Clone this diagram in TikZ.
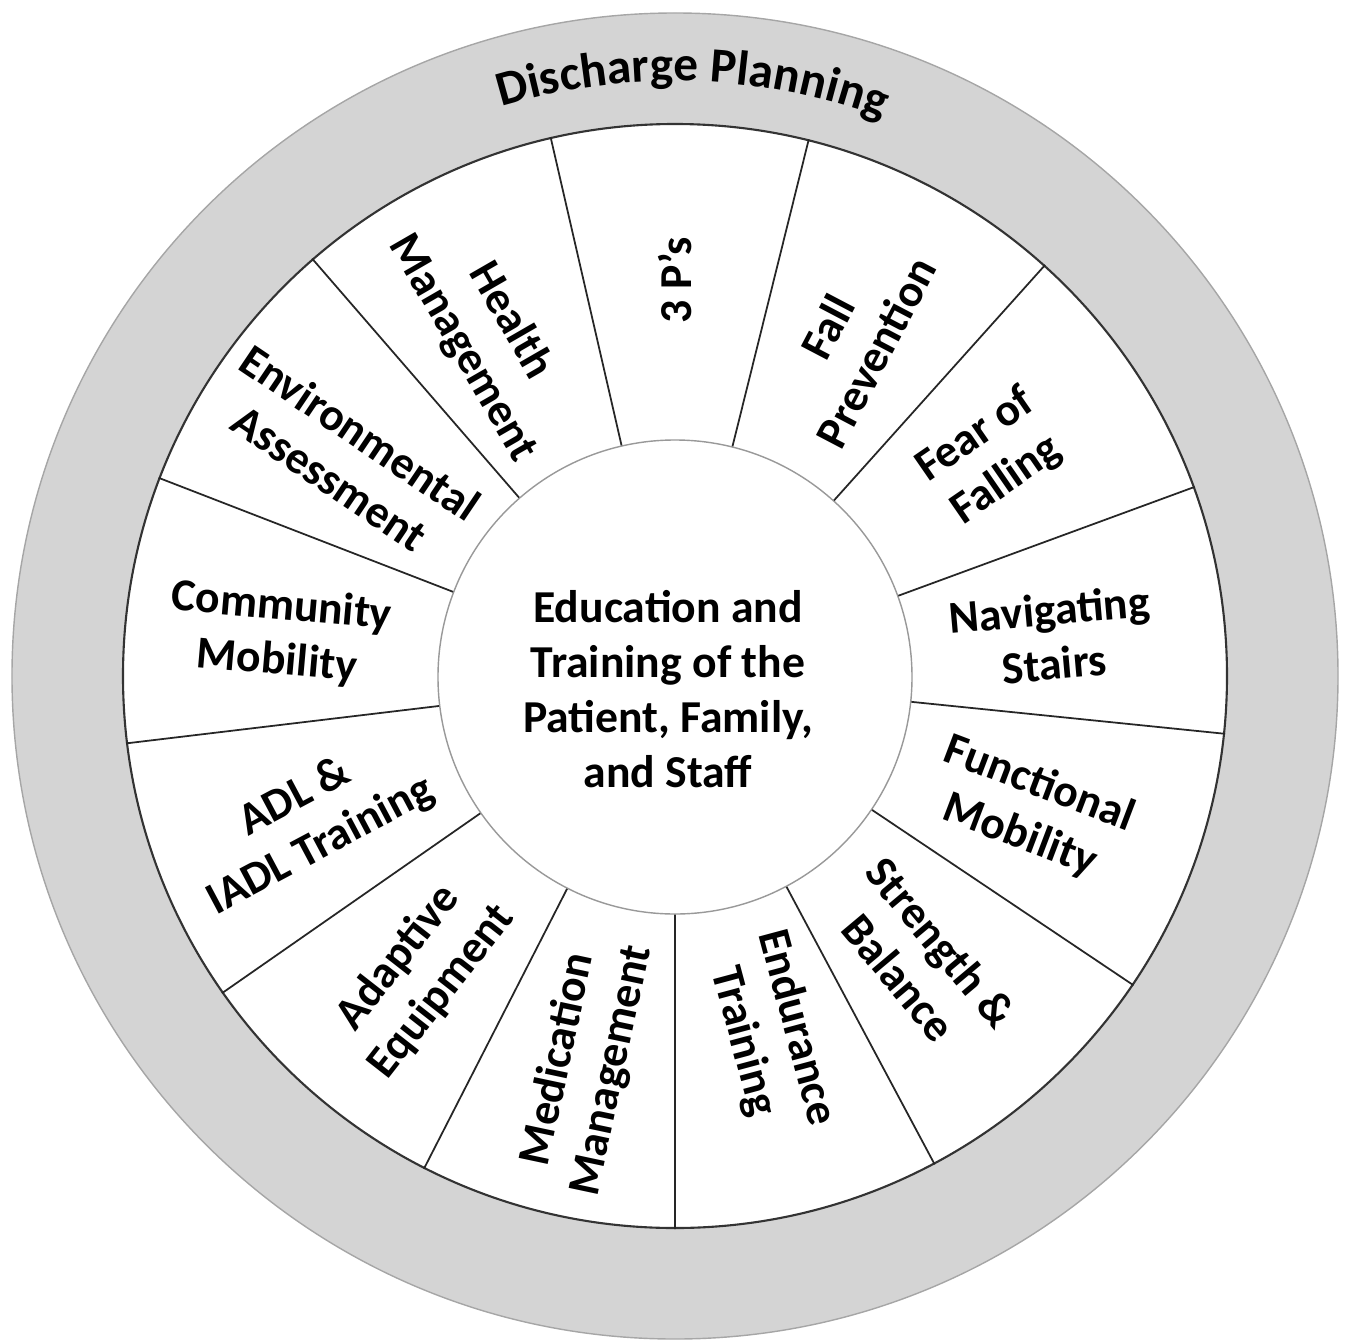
\documentclass[tikz,border=0pt]{standalone}
\usepackage{fontspec}
\setmainfont{Carlito}
\usetikzlibrary{decorations.text}
\newcommand{\wheelfont}{\fontsize{13}{15.6}\selectfont\bfseries}
\tikzset{
  every node/.style={font=\wheelfont, align=center, inner sep=0pt},
  ring/.style={circle, fill=black!17, draw=black!35, line width=0.4pt, minimum size=13.26cm},
  wheel/.style={circle, fill=white, draw=black!80, line width=0.6pt, minimum size=11.04cm},
  hub/.style={circle, fill=white, draw=black!40, line width=0.4pt, minimum size=4.74cm},
  spoke/.style={draw=black!85, line width=0.5pt},
}

\begin{document}
\begin{tikzpicture}
  \useasboundingbox (-6.75,-6.63) rectangle (6.71,6.76);

  \node[ring] (ring) at (0,0) {};
  \node[wheel] (wheel) at (0,0) {};
  \node[hub] (hub) at (0,-0.01) {};
  \node (centre) at (-0.07,-0.13) {Education and\\Training of the\\Patient, Family,\\and Staff};

  \path[decorate, decoration={text along path, text align=center,
      text={|\fontsize{14}{16}\selectfont\bfseries|Discharge Planning}}]
    (118.3:5.95) arc[start angle=118.3, end angle=58.3, radius=5.95];

  \draw[spoke] (hub.76.154) -- (wheel.76.154)
               (hub.48.462) -- (wheel.48.462)
               (hub.20.769) -- (wheel.20.769)
               (hub.-6.923) -- (wheel.-6.923)
               (hub.-34.615) -- (wheel.-34.615)
               (hub.-62.308) -- (wheel.-62.308)
               (hub.-90) -- (wheel.-90)
               (hub.-117.692) -- (wheel.-117.692)
               (hub.-145.385) -- (wheel.-145.385)
               (hub.-173.077) -- (wheel.-173.077)
               (hub.159.231) -- (wheel.159.231)
               (hub.131.538) -- (wheel.131.538)
               (hub.103.846) -- (wheel.103.846);

  \node[rotate=90] (threeps) at (90:3.96) {3 P’s};
  \node[rotate=62.3] (fall) at (62.3:3.8) {Fall\\Prevention};
  \node[rotate=34.6] (fear) at (34.6:3.84) {Fear of\\Falling};
  \node[rotate=5] (stairs) at (6:3.79) {Navigating\\Stairs};
  \node[rotate=-20.8] (functional) at (-20.7:3.79) {Functional\\Mobility};
  \node[rotate=-50] (strength) at (-49.2:3.75) {Strength \&\\Balance};
  \node[rotate=-75] (endurance) at (-75.2:3.71) {Endurance\\Training};
  \node[rotate=78] (medication) at (-103:3.99) {Medication\\Management};
  \node[rotate=52] (adaptive) at (-130.5:3.93) {Adaptive\\Equipment};
  \node[rotate=28] (adl) at (-158.3:3.95) {ADL \&\\IADL Training};
  \node[rotate=-5] (community) at (174:3.98) {Community\\Mobility};
  \node[rotate=-34] (environment) at (146.2:3.97) {Environmental\\Assessment};
  \node[rotate=-60] (health) at (118.9:3.9) {Health\\Management};
\end{tikzpicture}
\end{document}
